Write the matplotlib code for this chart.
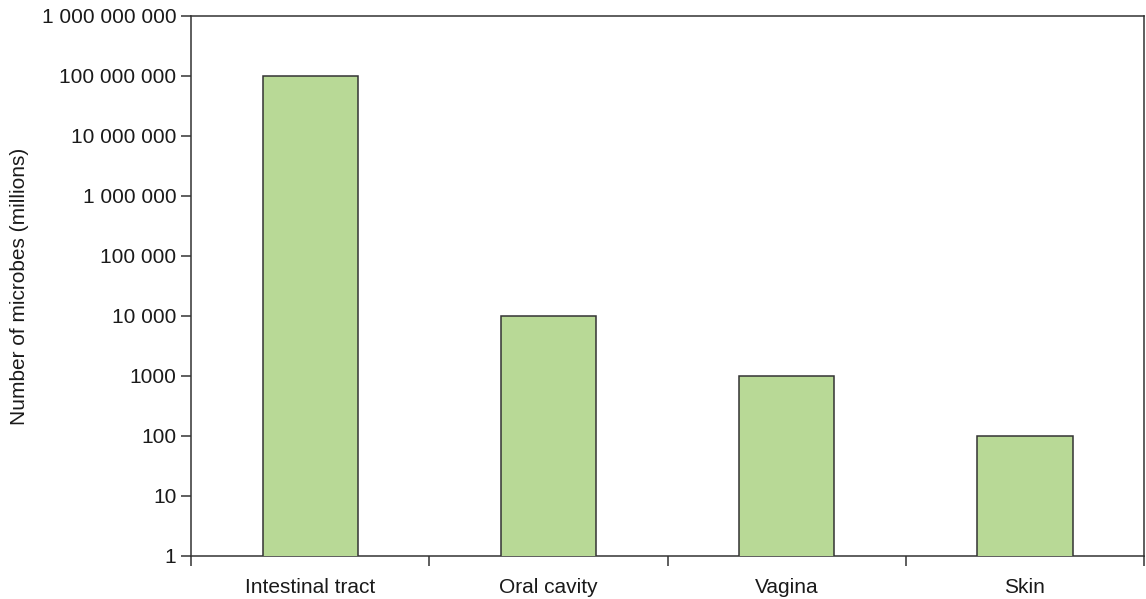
import numpy as np
import matplotlib.pyplot as plt

plt.rcParams['font.family'] = ['Liberation Sans', 'DejaVu Sans']

sites = ["Intestinal tract", "Oral cavity", "Vagina", "Skin"]
microbes = [1e8, 1e4, 1e3, 1e2]
ytick_vals = [1, 10, 100, 1000, 1e4, 1e5, 1e6, 1e7, 1e8, 1e9]
ytick_labels = ["1", "10", "100", "1000", "10 000", "100 000", "1 000 000",
                "10 000 000", "100 000 000", "1 000 000 000"]

fig = plt.figure(figsize=(11.46, 5.99), dpi=100)
ax = fig.add_axes([0.1667, 0.0718, 0.8316, 0.9015])

x = np.arange(len(sites))
ax.bar(x, microbes, width=0.4, bottom=0, color="#b8d996",
       edgecolor="#333333", linewidth=1.1, zorder=3)

ax.set_yscale("log")
ax.set_ylim(1, 1e9)
ax.set_yticks(ytick_vals)
ax.set_yticklabels(ytick_labels)
ax.minorticks_off()
ax.set_xlim(-0.5, len(sites) - 0.5)

# labels in the middle, ticks on the category borders
ax.set_xticks(x)
ax.set_xticklabels(sites)
ax.tick_params(axis="x", length=0, pad=16, labelsize=15, colors="#1a1a1a")
ax.set_xticks(np.arange(len(sites) + 1) - 0.5, minor=True)
ax.tick_params(axis="x", which="minor", length=7, width=1.1,
               direction="out", color="#333333")
ax.tick_params(axis="y", length=7, width=1.1, direction="out",
               labelsize=15, colors="#333333", labelcolor="#1a1a1a")

for s in ax.spines.values():
    s.set_color("#333333")
    s.set_linewidth(1.1)

ax.set_ylabel("Number of microbes (millions)", fontsize=15, color="#1a1a1a",
              labelpad=9)

fig.savefig("out.png", dpi=100)
